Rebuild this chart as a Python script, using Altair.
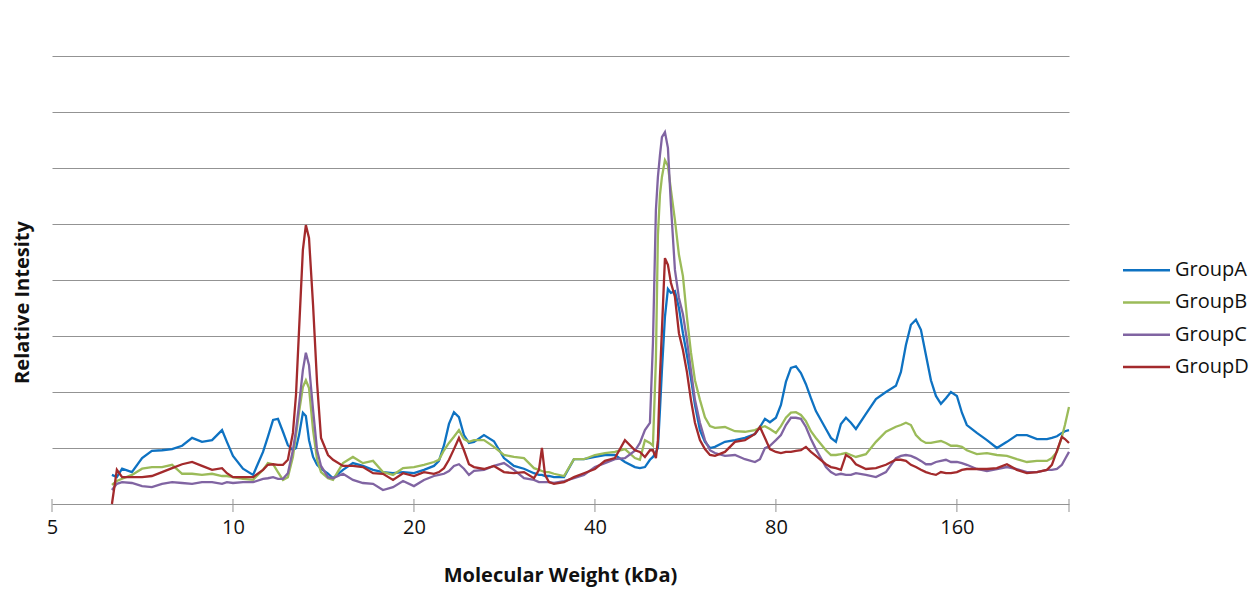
import altair as alt
import pandas as pd

groups = ["GroupA", "GroupB", "GroupC", "GroupD"]
colors = ["#0E72C2", "#9BBB59", "#8064A2", "#A32A2C"]

# Molecular weight sample points (kDa)
mw = [6.29, 6.41, 6.54, 6.79, 7.06, 7.33, 7.62, 7.92, 8.23, 8.55, 8.88, 9.23, 9.59, 9.77,
      10.00, 10.39, 10.80, 11.22, 11.43, 11.66, 11.88, 12.11, 12.34, 12.58, 12.73, 12.88,
      13.07, 13.22, 13.38, 13.59, 13.80, 14.01, 14.39, 14.67, 15.24, 15.83, 16.45, 17.10,
      17.76, 18.46, 19.18,
      20.00, 20.78, 21.59, 22.01, 22.44, 22.87, 23.31, 23.76, 24.22, 24.69, 25.17, 26.15,
      27.17, 28.23, 29.33, 30.48, 31.67, 32.28, 32.65, 33.04, 33.54, 34.19, 35.53, 36.91,
      38.35,
      40.00, 41.56, 43.18, 44.87, 46.62, 47.52, 48.44, 49.38, 49.95, 50.52, 50.91, 51.31,
      51.70, 52.30, 52.90, 53.51, 54.34, 55.18, 56.03, 56.89, 57.77, 58.67, 59.80, 60.96,
      62.14, 63.34, 65.81, 68.38, 71.05, 73.83, 75.25, 76.71, 78.19,
      80.00, 81.55, 83.12, 84.73, 86.37, 88.04, 89.74, 91.48, 93.24, 96.89, 98.76, 100.67,
      102.61, 104.60, 106.62, 108.68, 112.93, 117.34, 121.92, 126.67, 129.13, 131.62,
      134.17, 136.76, 139.41, 142.10, 144.85, 147.65, 150.50, 153.41, 156.38,
      160.0, 163.1, 166.2, 172.7, 179.5, 186.5, 193.8, 201.3, 209.2, 217.4, 225.9, 230.2,
      234.7, 239.2, 242.0, 245.8]

group_a = [0.52, 0.48, 0.63, 0.57, 0.82, 0.95, 0.96, 0.98, 1.04, 1.18, 1.11, 1.14, 1.32, 1.11,
           0.86, 0.63, 0.52, 0.93, 1.20, 1.50, 1.52, 1.29, 1.05, 0.96, 1.00, 1.23,
           1.63, 1.57, 1.14, 0.84, 0.70, 0.63, 0.54, 0.46, 0.61, 0.73, 0.68, 0.61,
           0.57, 0.55, 0.57,
           0.55, 0.61, 0.68, 0.77, 1.05, 1.43, 1.64, 1.55, 1.23, 1.09, 1.11, 1.23,
           1.12, 0.82, 0.68, 0.63, 0.55, 0.52, 0.52, 0.50, 0.50, 0.48, 0.48, 0.80,
           0.80,
           0.84, 0.875, 0.875, 0.75, 0.66, 0.64, 0.66, 0.79, 0.84, 0.93, 1.00, 1.68,
           2.39, 3.34, 3.84, 3.77, 3.80, 3.50, 3.05, 2.66, 2.25, 1.77, 1.32, 1.11,
           1.00, 1.02, 1.11, 1.14, 1.18, 1.25, 1.375, 1.52, 1.46,
           1.54, 1.77, 2.18, 2.43, 2.46, 2.34, 2.14, 1.89, 1.66, 1.34, 1.18, 1.11,
           1.43, 1.54, 1.45, 1.34, 1.61, 1.875, 2.00, 2.11, 2.36, 2.84,
           3.20, 3.29, 3.11, 2.66, 2.21, 1.93, 1.79, 1.89, 2.00,
           1.93, 1.63, 1.41, 1.27, 1.14, 1.00, 1.11, 1.23, 1.23, 1.16, 1.16, 1.18,
           1.21, 1.27, 1.30, 1.32]

group_b = [0.34, 0.41, 0.45, 0.52, 0.63, 0.66, 0.66, 0.70, 0.54, 0.54, 0.52, 0.54, 0.50, 0.50,
           0.48, 0.45, 0.43, 0.61, 0.73, 0.71, 0.57, 0.43, 0.48, 0.84, 1.23, 1.64,
           2.09, 2.21, 2.07, 1.32, 0.79, 0.57, 0.46, 0.43, 0.73, 0.84, 0.73, 0.77,
           0.57, 0.52, 0.64,
           0.66, 0.70, 0.75, 0.79, 0.96, 1.09, 1.20, 1.32, 1.16, 1.11, 1.14, 1.14,
           1.02, 0.875, 0.84, 0.82, 0.64, 0.61, 0.59, 0.57, 0.57, 0.54, 0.50, 0.80,
           0.80,
           0.875, 0.91, 0.93, 0.98, 0.82, 0.79, 1.14, 1.09, 1.04, 2.57, 4.80, 5.52,
           5.84, 6.14, 6.04, 5.61, 5.07, 4.45, 4.07, 3.34, 2.71, 2.21, 1.86, 1.55,
           1.39, 1.36, 1.375, 1.30, 1.29, 1.32, 1.36, 1.39, 1.34,
           1.27, 1.39, 1.54, 1.63, 1.64, 1.59, 1.48, 1.30, 1.18, 0.96, 0.875, 0.875,
           0.89, 0.91, 0.875, 0.84, 0.89, 1.11, 1.29, 1.38, 1.41, 1.45,
           1.41, 1.23, 1.14, 1.09, 1.09, 1.11, 1.125, 1.09, 1.04,
           1.04, 1.02, 0.96, 0.89, 0.91, 0.875, 0.86, 0.80, 0.75, 0.77, 0.77, 0.82,
           0.93, 1.20, 1.41, 1.73]

group_c = [0.25, 0.36, 0.39, 0.375, 0.32, 0.30, 0.36, 0.39, 0.375, 0.36, 0.39, 0.39, 0.36, 0.39,
           0.375, 0.39, 0.39, 0.45, 0.46, 0.48, 0.45, 0.45, 0.55, 0.96, 1.32, 1.77,
           2.39, 2.70, 2.48, 1.68, 0.96, 0.68, 0.48, 0.46, 0.54, 0.43, 0.375, 0.36,
           0.25, 0.30, 0.41,
           0.32, 0.43, 0.50, 0.52, 0.54, 0.59, 0.68, 0.71, 0.63, 0.52, 0.59, 0.61,
           0.68, 0.73, 0.61, 0.46, 0.43, 0.39, 0.39, 0.39, 0.39, 0.375, 0.41, 0.46,
           0.52,
           0.66, 0.73, 0.80, 0.82, 0.95, 1.09, 1.32, 1.45, 2.875, 5.25, 5.84, 6.23,
           6.55, 6.64, 6.36, 5.34, 4.18, 3.68, 3.39, 2.93, 2.39, 1.86, 1.45, 1.14,
           0.96, 0.91, 0.86, 0.875, 0.80, 0.75, 0.80, 1.00, 1.04,
           1.14, 1.23, 1.41, 1.54, 1.54, 1.52, 1.375, 1.16, 0.98, 0.66, 0.57, 0.52,
           0.54, 0.52, 0.52, 0.55, 0.52, 0.48, 0.57, 0.82, 0.86, 0.875,
           0.86, 0.82, 0.77, 0.71, 0.71, 0.75, 0.77, 0.79, 0.75,
           0.75, 0.73, 0.70, 0.625, 0.59, 0.625, 0.66, 0.625, 0.57, 0.57, 0.61, 0.61,
           0.625, 0.70, 0.80, 0.93]

group_d = [0.00, 0.61, 0.48, 0.48, 0.48, 0.50, 0.57, 0.64, 0.71, 0.75, 0.68, 0.61, 0.64, 0.55,
           0.48, 0.48, 0.48, 0.61, 0.70, 0.71, 0.70, 0.70, 0.79, 1.27, 1.95, 3.11,
           4.54, 4.98, 4.75, 3.55, 2.16, 1.18, 0.875, 0.79, 0.68, 0.68, 0.66, 0.55,
           0.54, 0.43, 0.55,
           0.50, 0.57, 0.54, 0.57, 0.64, 0.79, 0.98, 1.18, 0.96, 0.71, 0.66, 0.625,
           0.68, 0.57, 0.55, 0.57, 0.46, 0.61, 1.00, 0.52, 0.39, 0.36, 0.39, 0.48,
           0.55,
           0.625, 0.77, 0.82, 1.14, 0.96, 0.93, 0.84, 0.96, 0.96, 0.82, 1.14, 2.27,
           3.11, 4.39, 4.27, 3.95, 3.70, 3.05, 2.75, 2.36, 1.86, 1.45, 1.14, 0.98,
           0.875, 0.86, 0.93, 1.11, 1.14, 1.25, 1.375, 1.18, 0.98,
           0.93, 0.91, 0.93, 0.93, 0.95, 0.96, 1.02, 0.93, 0.86, 0.71, 0.66, 0.64,
           0.61, 0.875, 0.82, 0.71, 0.625, 0.64, 0.70, 0.79, 0.79, 0.77,
           0.70, 0.66, 0.61, 0.57, 0.54, 0.52, 0.57, 0.55, 0.55,
           0.57, 0.61, 0.625, 0.625, 0.625, 0.64, 0.71, 0.61, 0.55, 0.57, 0.61, 0.70,
           0.95, 1.20, 1.16, 1.09]

tick_values = [5, 10, 20, 40, 80, 160, 245.8]
label_values = [5, 10, 20, 40, 80, 160]

rows = []
for g, series in zip(groups, [group_a, group_b, group_c, group_d]):
    for x, y in zip(mw, series):
        rows.append({"group": g, "mw": x, "intensity": y})
df = pd.DataFrame(rows)
legend_df = pd.DataFrame({"group": groups})
ticks_df = pd.DataFrame({"mw": tick_values})

FONT = "Open Sans"
GRID = "#939393"

xscale = alt.Scale(type="log", base=2, domain=[5, 245.8], nice=False, zero=False)
yscale = alt.Scale(domain=[0, 8], nice=False, zero=True)
cscale = alt.Scale(domain=groups, range=colors)

lines = alt.Chart(df).mark_line(strokeWidth=2.3, interpolate="linear").encode(
    x=alt.X("mw:Q", scale=xscale,
            axis=alt.Axis(values=label_values, format="d", ticks=False, grid=False,
                          domainColor=GRID, domainWidth=1,
                          labelFont=FONT, labelFontSize=20, labelColor="#111111",
                          labelPadding=13, labelFlush=False,
                          title="Molecular Weight (kDa)", titleFont=FONT,
                          titleFontSize=20, titleFontWeight="bold", titleColor="#111111",
                          titleX=508, titleY=71, titleBaseline="middle")),
    y=alt.Y("intensity:Q", scale=yscale,
            axis=alt.Axis(values=[1, 2, 3, 4, 5, 6, 7, 8], labels=False, ticks=False,
                          domain=False, grid=True, gridColor=GRID, gridWidth=1,
                          title="Relative Intesity", titleFont=FONT, titleFontSize=20,
                          titleFontWeight="bold", titleColor="#111111",
                          titleX=-30, titleY=246, titleAngle=-90,
                          titleAlign="center", titleBaseline="middle")),
    color=alt.Color("group:N", scale=cscale, legend=None),
    detail="group:N",
)

xticks = alt.Chart(ticks_df).mark_rule(color=GRID, strokeWidth=1).encode(
    x=alt.X("mw:Q", scale=xscale),
    y=alt.value(443),
    y2=alt.value(456),
)

leg_y = alt.Y("group:N", scale=alt.Scale(domain=groups, range=[198, 327], padding=0), axis=None)

leg_lines = alt.Chart(legend_df).mark_rule(strokeWidth=2.5).encode(
    x=alt.value(1071),
    x2=alt.value(1118),
    y=leg_y,
    color=alt.Color("group:N", scale=cscale, legend=None),
)

leg_text = alt.Chart(legend_df).mark_text(align="left", baseline="middle", font=FONT,
                                          fontSize=20, color="#111111").encode(
    x=alt.value(1123),
    y=leg_y,
    text="group:N",
)

main = alt.layer(lines, xticks)
legend = alt.layer(leg_lines, leg_text)

chart = alt.layer(main, legend).resolve_scale(y="independent").properties(
    width=1017,
    height=448,
    autosize=alt.AutoSizeParams(type="none"),
    padding={"left": 52, "top": 56, "right": 187, "bottom": 85},
    background="white",
).configure_view(stroke=None)

chart.save("out.html", embed_options={"renderer": "svg", "actions": False})
